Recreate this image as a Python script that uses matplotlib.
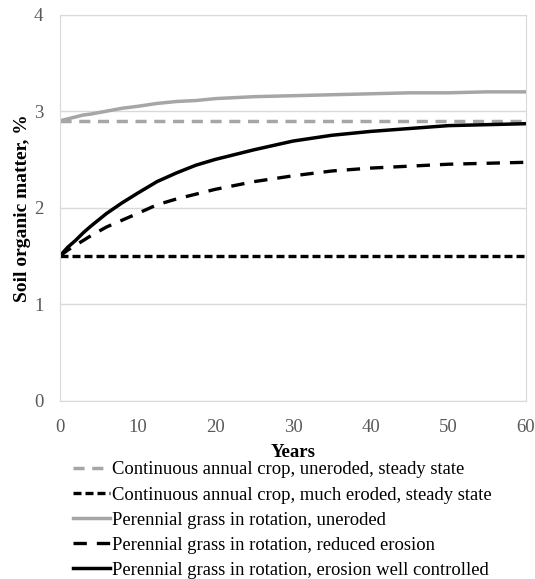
import numpy as np
import matplotlib.pyplot as plt

plt.rcParams['font.family'] = ['Liberation Serif', 'DejaVu Serif']

#===| data |========================================================
years = [0, 1, 2, 3, 4, 6, 8, 10, 12.5, 15, 17.5, 20, 25, 30, 35, 40, 45, 50, 55, 60]

annual_uneroded = [2.90] * len(years)
annual_eroded = [1.50] * len(years)
grass_uneroded = [2.90, 2.92, 2.94, 2.96, 2.97, 3.00, 3.03, 3.05, 3.08, 3.10,
                  3.11, 3.13, 3.15, 3.16, 3.17, 3.18, 3.19, 3.19, 3.20, 3.20]
grass_reduced = [1.50, 1.56, 1.61, 1.66, 1.71, 1.80, 1.87, 1.94, 2.03, 2.09,
                 2.14, 2.19, 2.27, 2.33, 2.38, 2.41, 2.43, 2.45, 2.46, 2.47]
grass_controlled = [1.50, 1.59, 1.66, 1.74, 1.81, 1.94, 2.05, 2.15, 2.27, 2.36,
                    2.44, 2.50, 2.60, 2.69, 2.75, 2.79, 2.82, 2.85, 2.86, 2.87]

labels = ['Continuous annual crop, uneroded, steady state',
          'Continuous annual crop, much eroded, steady state',
          'Perennial grass in rotation, uneroded',
          'Perennial grass in rotation, reduced erosion',
          'Perennial grass in rotation, erosion well controlled']

xticks = [0, 10, 20, 30, 40, 50, 60]
yticks = [0, 1, 2, 3, 4]

#===| plot |========================================================
fig = plt.figure(figsize=(5.35, 5.79), dpi=100)
ax = fig.add_axes([0.1121, 0.308, 0.871, 0.6667])

gray = '#a6a6a6'
ax.plot(years, annual_uneroded, color=gray, lw=2.5, dashes=(3.2, 2.2), label=labels[0])
ax.plot(years, annual_eroded, color='black', lw=2.4, dashes=(2.4, 1.2), label=labels[1])
ax.plot(years, grass_uneroded, color=gray, lw=2.5, label=labels[2])
ax.plot(years, grass_reduced, color='black', lw=2.4, dashes=(4.0, 3.0), label=labels[3])
ax.plot(years, grass_controlled, color='black', lw=2.5, label=labels[4])

ax.set_xlim(0, 60)
ax.set_ylim(0, 4)
ax.set_xticks(xticks)
ax.set_yticks(yticks)
ax.grid(axis='y', color='#d9d9d9', lw=1)
ax.set_axisbelow(True)
for s in ax.spines.values():
    s.set_color('#d9d9d9')
ax.tick_params(length=0, labelsize=13.5, labelcolor='#595959')
ax.tick_params(axis='x', pad=13)
ax.tick_params(axis='y', pad=12)

ax.set_xlabel('Years', fontsize=13.5, fontweight='bold', labelpad=6)
ax.set_ylabel('Soil organic matter, %', fontsize=14, fontweight='bold', labelpad=2)

fig.legend(loc='upper left', bbox_to_anchor=(0.136, 0.203), frameon=False,
           fontsize=13.4, handlelength=2.0, handletextpad=0.1,
           labelspacing=0.43, borderaxespad=0, borderpad=0)

fig.savefig('out.png', dpi=100)
